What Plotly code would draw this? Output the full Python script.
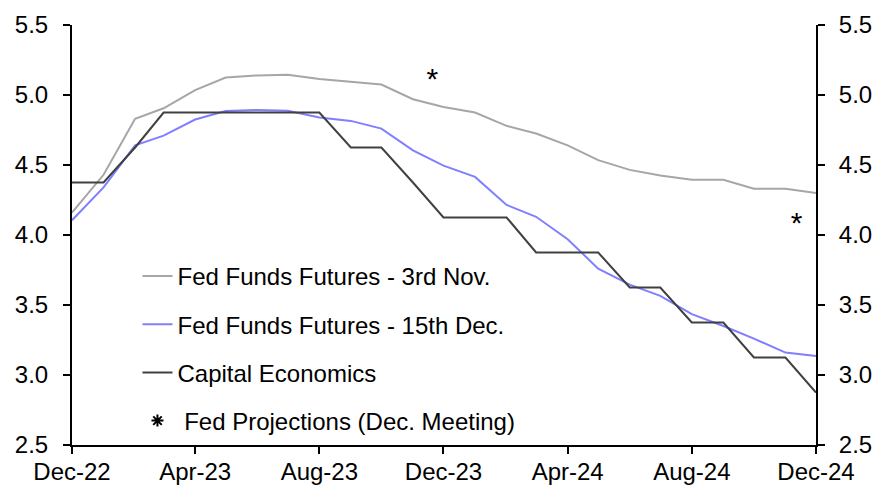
import plotly.graph_objects as go

months = ["2022-12-01", "2023-01-01", "2023-02-01", "2023-03-01", "2023-04-01",
          "2023-05-01", "2023-06-01", "2023-07-01", "2023-08-01", "2023-09-01",
          "2023-10-01", "2023-11-01", "2023-12-01", "2024-01-01", "2024-02-01",
          "2024-03-01", "2024-04-01", "2024-05-01", "2024-06-01", "2024-07-01",
          "2024-08-01", "2024-09-01", "2024-10-01", "2024-11-01", "2024-12-01"]

fed_funds_nov = [4.16, 4.43, 4.83, 4.905, 5.035, 5.125, 5.14, 5.145, 5.115, 5.095,
                 5.075, 4.97, 4.915, 4.875, 4.78, 4.725, 4.64, 4.535, 4.465, 4.425,
                 4.395, 4.395, 4.33, 4.33, 4.30]

fed_funds_dec = [4.105, 4.34, 4.64, 4.71, 4.825, 4.885, 4.893, 4.888, 4.84, 4.815,
                 4.76, 4.605, 4.495, 4.415, 4.215, 4.13, 3.97, 3.76, 3.645, 3.565,
                 3.435, 3.35, 3.26, 3.16, 3.135]

capital_economics = [4.375, 4.375, 4.625, 4.875, 4.875, 4.875, 4.875, 4.875, 4.875, 4.625,
                     4.625, 4.375, 4.125, 4.125, 4.125, 3.875, 3.875, 3.875, 3.625, 3.625,
                     3.375, 3.375, 3.125, 3.125, 2.875]

fed_proj_dates = ["2023-11-20", "2024-11-12"]
fed_proj_values = [5.10, 4.07]

tick_dates = ["2022-12-01", "2023-04-01", "2023-08-01", "2023-12-01",
              "2024-04-01", "2024-08-01", "2024-12-01"]
tick_labels = ["Dec-22", "Apr-23", "Aug-23", "Dec-23", "Apr-24", "Aug-24", "Dec-24"]
y_ticks = [2.5, 3.0, 3.5, 4.0, 4.5, 5.0, 5.5]
y_tick_labels = ["2.5", "3.0", "3.5", "4.0", "4.5", "5.0", "5.5"]

FONT = "Liberation Sans, Arial, sans-serif"
FS = 24

fig = go.Figure()
fig.add_trace(go.Scatter(x=months, y=fed_funds_nov, mode="lines",
                         name="Fed Funds Futures - 3rd Nov.",
                         line=dict(color="#a6a6a6", width=2), legendgroup="a"))
fig.add_trace(go.Scatter(x=months, y=fed_funds_dec, mode="lines",
                         name="Fed Funds Futures - 15th Dec.",
                         line=dict(color="#7f7fff", width=2), legendgroup="b"))
fig.add_trace(go.Scatter(x=months, y=capital_economics, mode="lines",
                         name="Capital Economics",
                         line=dict(color="#404040", width=2), legendgroup="c"))
fig.add_trace(go.Scatter(x=fed_proj_dates, y=fed_proj_values, mode="text",
                         text=["*"] * len(fed_proj_values), textposition="middle center",
                         textfont=dict(family=FONT, size=30, color="black"),
                         showlegend=False, yaxis="y2", hoverinfo="skip"))
fig.add_trace(go.Scatter(x=[None], y=[None], mode="markers",
                         name="&nbsp;Fed Projections (Dec. Meeting)",
                         marker=dict(symbol="asterisk-open", size=10, color="black",
                                     line=dict(color="black", width=2)),
                         legendgroup="d"))

axis_common = dict(showgrid=False, zeroline=False, showline=True, linecolor="black",
                   linewidth=2, ticks="outside", ticklen=7, tickwidth=2, tickcolor="black",
                   automargin=False,
                   tickfont=dict(family=FONT, size=FS, color="black"))

fig.update_layout(
    width=885, height=498,
    margin=dict(l=72, r=69, t=25, b=53),
    paper_bgcolor="white", plot_bgcolor="white",
    font=dict(family=FONT, size=FS, color="black"),
    xaxis=dict(range=[months[0], months[-1]], tickvals=tick_dates, ticktext=tick_labels,
               ticklabelstandoff=-3, **axis_common),
    yaxis=dict(range=[2.5, 5.5], tickvals=y_ticks, ticktext=y_tick_labels,
               ticklabelstandoff=10, **axis_common),
    yaxis2=dict(range=[2.5, 5.5], tickvals=y_ticks, ticktext=y_tick_labels,
                overlaying="y", side="right", anchor="x", ticklabelstandoff=9,
                **axis_common),
    legend=dict(x=0.088, y=0.455, xanchor="left", yanchor="top",
                bgcolor="rgba(0,0,0,0)", font=dict(family=FONT, size=FS, color="black"),
                tracegroupgap=14, traceorder="grouped", itemclick=False),
    showlegend=True,
)

fig.write_html("out.html", config={"displayModeBar": False, "staticPlot": True},
               post_script="document.body.style.margin='0';document.body.style.overflow='hidden';")
